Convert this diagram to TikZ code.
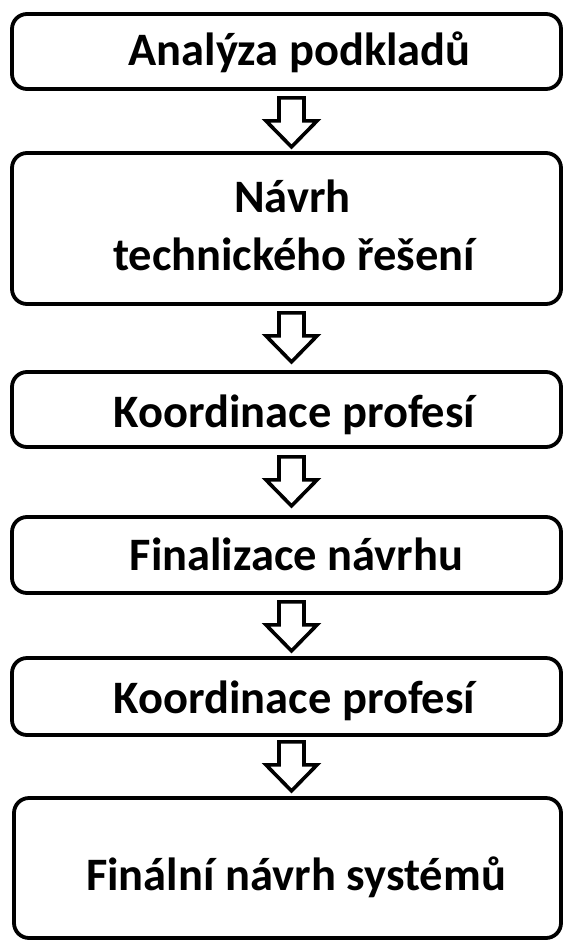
\documentclass[tikz,border=0pt]{standalone}
\usepackage{fontspec}
\setmainfont{Carlito}
\usetikzlibrary{calc}
\begin{document}
\begin{tikzpicture}[x=1pt,y=-1pt,
  box/.style={draw=black, line width=3.8pt, rounded corners=15pt, minimum width=549pt, inner sep=0pt, fill=white},
  lbl/.style={font=\fontsize{46.5}{56}\selectfont\bfseries, anchor=base, inner sep=0pt},
  barrow/.pic={\draw[line width=3.6pt, line join=miter, fill=white]
     (-12.5,0) -- (12.5,0) -- (12.5,23) -- (25.5,23) -- (0,49) -- (-25.5,23) -- (-12.5,23) -- cycle;}]
\useasboundingbox (0,0) rectangle (565,943);
% boxes
\node[box, minimum height=75pt] (b1) at (286.5,51.5) {};
\node[box, minimum height=151pt] (b2) at (286.5,228.5) {};
\node[box, minimum height=75pt] (b3) at (286.5,409.5) {};
\node[box, minimum height=76pt] (b4) at (286.5,555) {};
\node[box, minimum height=77pt] (b5) at (286.5,696.5) {};
\node[box, minimum height=140pt, minimum width=547pt] (b6) at (287.5,868) {};
% labels
\node[lbl] (l1) at ($(b1.center)+(13,13.5)$) {Analýza podkladů};
\node[lbl] (l2a) at ($(b2.center)+(6,-16.5)$) {Návrh};
\node[lbl] (l2b) at ($(b2.center)+(7.5,41.5)$) {technického řešení};
\node[lbl] (l3) at ($(b3.center)+(8,17.5)$) {Koordinace profesí};
\node[lbl] (l4) at ($(b4.center)+(10,15)$) {Finalizace návrhu};
\node[lbl] (l5) at ($(b5.center)+(8,16.5)$) {Koordinace profesí};
\node[lbl] (l6) at ($(b6.center)+(8.5,22)$) {Finální návrh systémů};
% block arrows
\pic at ($(b1.south)+(5,7)$) {barrow};
\pic at ($(b2.south)+(5,7)$) {barrow};
\pic at ($(b3.south)+(5,8)$) {barrow};
\pic at ($(b4.south)+(5,7)$) {barrow};
\pic at ($(b5.south)+(5,5)$) {barrow};
\end{tikzpicture}
\end{document}
